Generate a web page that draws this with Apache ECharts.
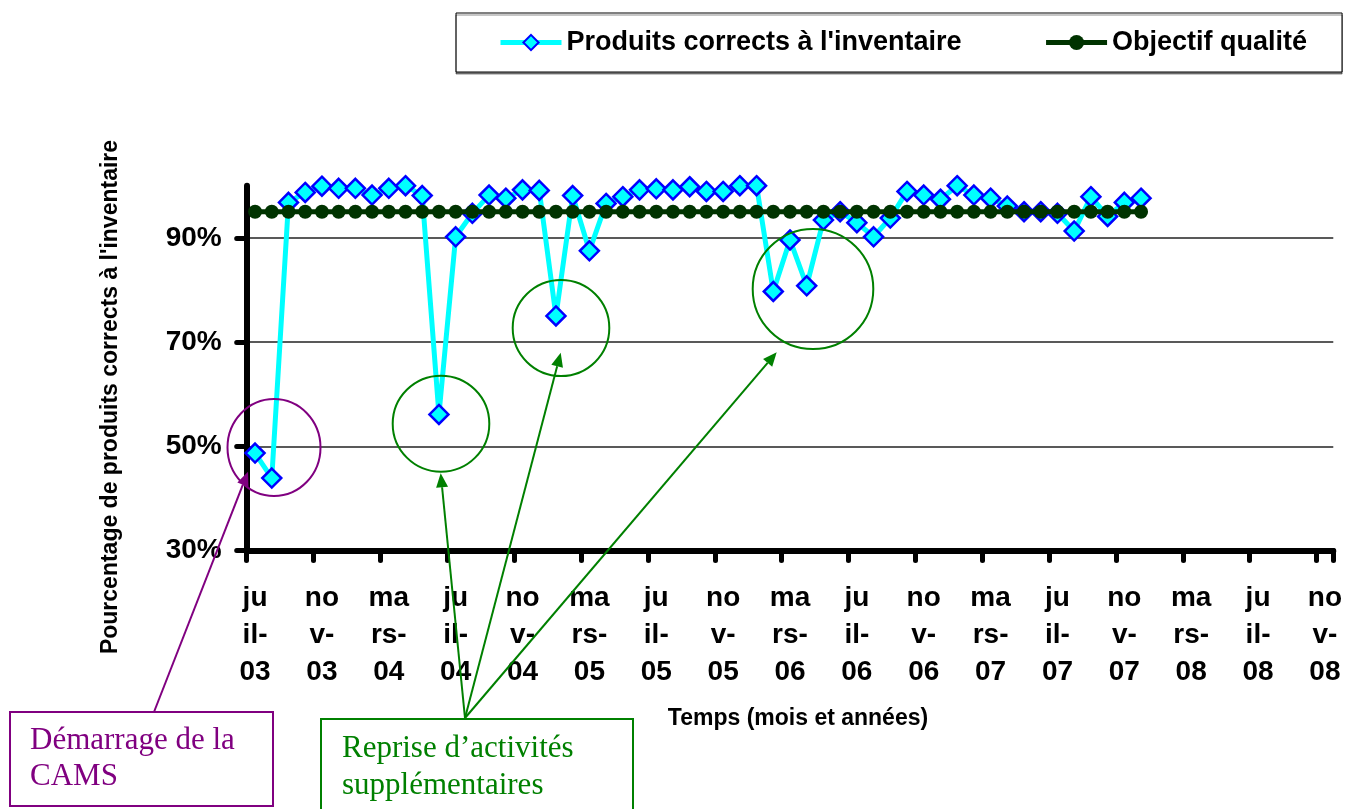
<!DOCTYPE html>
<html>
<head>
<meta charset="utf-8">
<script src="https://cdn.jsdelivr.net/npm/echarts@6/dist/echarts.min.js"></script>
<style>
  html, body { margin: 0; padding: 0; background: #fff; }
  #chart { width: 1345px; height: 809px; }
</style>
</head>
<body>
<div id="chart"></div>
<script>
// ---- Data ----
const months = [
  'juil-03','août-03','sept-03','oct-03','nov-03','déc-03',
  'janv-04','févr-04','mars-04','avr-04','mai-04','juin-04','juil-04','août-04','sept-04','oct-04','nov-04','déc-04',
  'janv-05','févr-05','mars-05','avr-05','mai-05','juin-05','juil-05','août-05','sept-05','oct-05','nov-05','déc-05',
  'janv-06','févr-06','mars-06','avr-06','mai-06','juin-06','juil-06','août-06','sept-06','oct-06','nov-06','déc-06',
  'janv-07','févr-07','mars-07','avr-07','mai-07','juin-07','juil-07','août-07','sept-07','oct-07','nov-07','déc-07',
  'janv-08','févr-08','mars-08','avr-08','mai-08','juin-08','juil-08','août-08','sept-08','oct-08','nov-08'
];
const produitsCorrects = [
  48.7, 43.9, 96.8, 98.7, 99.9, 99.5, 99.5, 98.2, 99.5, 100, 98.1, 56.1,
  90.2, 94.7, 98.2, 97.6, 99.2, 99.1, 75.0, 98.1, 87.5, 96.6, 97.9, 99.2,
  99.4, 99.2, 99.8, 98.9, 98.9, 100, 100, 79.7, 89.6, 80.8, 93.4, 95.0,
  92.9, 90.2, 93.8, 98.9, 98.2, 97.4, 100, 98.2, 97.6, 96.1, 95.0, 95.0,
  94.7, 91.3, 97.9, 94.1, 96.8, 97.6
];
const objectifQualite = [
  95, 95, 95, 95, 95, 95, 95, 95, 95, 95, 95, 95,
  95, 95, 95, 95, 95, 95, 95, 95, 95, 95, 95, 95,
  95, 95, 95, 95, 95, 95, 95, 95, 95, 95, 95, 95,
  95, 95, 95, 95, 95, 95, 95, 95, 95, 95, 95, 95,
  95, 95, 95, 95, 95, 95
];
const yTickValues = [30, 50, 70, 90];
const seriesNames = ["Produits corrects à l'inventaire", 'Objectif qualité'];

// ---- Annotation helpers ----
const PURPLE = '#800080';
const GREEN = '#008000';
function arrow(x1, y1, x2, y2, color) {
  const a = Math.atan2(y2 - y1, x2 - x1);
  const L = 14, W = 6;
  const bx = x2 - L * Math.cos(a), by = y2 - L * Math.sin(a);
  return [
    { type: 'line', silent: true, z: 100,
      shape: { x1: x1, y1: y1, x2: bx, y2: by },
      style: { stroke: color, lineWidth: 2 } },
    { type: 'polygon', silent: true, z: 100,
      shape: { points: [[x2, y2], [bx + W * Math.sin(a), by - W * Math.cos(a)], [bx - W * Math.sin(a), by + W * Math.cos(a)]] },
      style: { fill: color } }
  ];
}
function ellipse(cx, cy, rx, ry, color) {
  return { type: 'ellipse', silent: true, z: 100,
    shape: { cx: cx, cy: cy, rx: rx, ry: ry },
    style: { fill: 'none', stroke: color, lineWidth: 2 } };
}

const chart = echarts.init(document.getElementById('chart'), null, { renderer: 'canvas' });

const graphics = [
  // axis titles
  { type: 'text', x: 111, y: 397, rotation: Math.PI / 2, silent: true,
    style: { text: "Pourcentage de produits corrects à l'inventaire", font: 'bold 23px "Liberation Sans", Arial, sans-serif',
      fill: '#000', align: 'center', verticalAlign: 'middle' } },
  { type: 'text', x: 798, y: 719, silent: true,
    style: { text: 'Temps (mois et années)', font: 'bold 23px "Liberation Sans", Arial, sans-serif',
      fill: '#000', align: 'center', verticalAlign: 'middle' } },
  // circles
  ellipse(274, 447.5, 46.5, 48.5, PURPLE),
  ellipse(441, 423.7, 48.3, 48, GREEN),
  ellipse(561, 328, 48.3, 48, GREEN),
  ellipse(813, 289, 60.3, 60, GREEN),
  // boxes
  { type: 'rect', silent: true, z: 100, shape: { x: 10, y: 712, width: 263, height: 94 },
    style: { fill: '#fff', stroke: PURPLE, lineWidth: 2 } },
  { type: 'text', silent: true, z: 101, x: 30, y: 723,
    style: { text: 'Démarrage de la\nCAMS', font: '31px "Liberation Serif", "Times New Roman", serif',
      fill: PURPLE, lineHeight: 36, align: 'left', verticalAlign: 'top' } },
  { type: 'rect', silent: true, z: 100, shape: { x: 321, y: 719, width: 312, height: 100 },
    style: { fill: '#fff', stroke: GREEN, lineWidth: 2 } },
  { type: 'text', silent: true, z: 101, x: 342, y: 730,
    style: { text: 'Reprise d\u2019activités\nsupplémentaires', font: '31px "Liberation Serif", "Times New Roman", serif',
      fill: GREEN, lineHeight: 37, align: 'left', verticalAlign: 'top' } }
].concat(
  arrow(154, 712, 248, 471.7, PURPLE),
  arrow(465, 718, 440.7, 473.3, GREEN),
  arrow(465, 718, 560.7, 352.7, GREEN),
  arrow(465, 718, 776.7, 352.3, GREEN)
);

const option = {
  animation: false,
  backgroundColor: '#fff',
  textStyle: { fontFamily: '"Liberation Sans", Arial, sans-serif' },
  legend: {
    data: seriesNames,
    left: 456,
    top: 13,
    width: 830,
    orient: 'horizontal',
    padding: [14, 35, 14, 42],
    itemGap: 82,
    itemWidth: 61,
    itemHeight: 19,
    backgroundColor: '#fff',
    borderColor: '#000',
    borderWidth: 1,
    shadowColor: 'rgba(0,0,0,0.45)',
    shadowOffsetX: 0,
    shadowOffsetY: 2,
    shadowBlur: 0,
    lineStyle: { width: 5 },
    textStyle: { fontSize: 27, fontWeight: 'bold', color: '#000', lineHeight: 31,
      fontFamily: '"Liberation Sans", Arial, sans-serif' }
  },
  grid: { left: 246.7, right: 7.9, top: 185.7, bottom: 258.5 },
  xAxis: {
    type: 'category',
    data: months,
    boundaryGap: true,
    axisLine: { lineStyle: { color: '#000', width: 6 } },
    axisTick: { show: true, interval: 3, length: 10, lineStyle: { color: '#000', width: 5, cap: 'round' } },
    axisLabel: {
      interval: 3,
      fontSize: 28, fontWeight: 'bold', color: '#000', lineHeight: 37, margin: 29,
      formatter: function (v) {
        const p = v.split('-');
        return p[0].slice(0, 2) + '\n' + p[0].slice(2) + '-\n' + p[1];
      }
    },
    splitLine: { show: false }
  },
  yAxis: {
    type: 'value',
    min: 30, max: 100, interval: 20,
    axisLine: { show: true, lineStyle: { color: '#000', width: 6, cap: 'round' } },
    axisTick: { show: true, customValues: yTickValues, length: 10, lineStyle: { color: '#000', width: 5, cap: 'round' } },
    axisLabel: { customValues: yTickValues, formatter: '{value}%', fontSize: 28, fontWeight: 'bold', color: '#000', margin: 25 },
    splitLine: { show: true, lineStyle: { color: ['#000', '#222', '#222', '#222', '#999'], width: 1.5 } }
  },
  series: [
    {
      name: seriesNames[0],
      type: 'line',
      data: produitsCorrects,
      z: 2,
      symbol: 'diamond',
      symbolSize: 19,
      showSymbol: true,
      showAllSymbol: true,
      lineStyle: { color: '#00FFFF', width: 5 },
      itemStyle: { color: '#00FFFF', borderColor: '#0000FF', borderWidth: 2.5 }
    },
    {
      name: seriesNames[1],
      type: 'line',
      data: objectifQualite,
      z: 3,
      symbol: 'circle',
      symbolSize: 14,
      showSymbol: true,
      showAllSymbol: true,
      lineStyle: { color: '#003300', width: 5 },
      itemStyle: { color: '#003300', borderWidth: 0 }
    }
  ],
  graphic: graphics
};

chart.setOption(option);
</script>
</body>
</html>
